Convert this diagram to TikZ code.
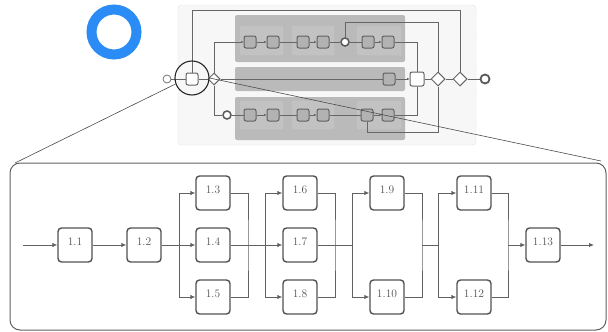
\documentclass[tikz,border=0pt]{standalone}
\usepackage{tikz}
\usetikzlibrary{positioning,calc,arrows.meta,shapes.geometric}
\definecolor{ringblue}{RGB}{43,140,245}
\tikzset{
  flow/.style    = {line width=0.9pt, draw=black!62, -{Latex[length=5pt,width=4.5pt]}},
  pipe/.style    = {line width=0.9pt, draw=black!62},
  tbox/.style    = {draw=black!68, fill=white, line width=1.4pt, rounded corners=3.5pt,
                    minimum width=34pt, minimum height=34pt, inner sep=0pt,
                    text depth=6pt, text=black!68, font=\fontsize{11.5}{13}\selectfont},
  mwire/.style   = {line width=1pt, draw=black!60},
  mflow/.style   = {mwire, -{Latex[length=2.5pt,width=2.5pt]}},
  mtask/.style   = {draw=black!62, fill=black!30, line width=1pt, rounded corners=2pt,
                    minimum size=12pt, inner sep=0pt},
  wtask/.style   = {mtask, fill=white},
  gw/.style      = {diamond, draw=black!60, fill=white, line width=1pt,
                    minimum size=14pt, inner sep=0pt},
  evt/.style     = {circle, draw=black!55, fill=white, line width=0.8pt,
                    minimum size=8pt, inner sep=0pt},
  tevt/.style    = {evt, line width=1.8pt, draw=black!65},
  lane/.style    = {fill=black!27, rounded corners=2pt},
  sublane/.style = {fill=black!24, draw=black!16, densely dotted, rounded corners=1.5pt},
}

\begin{document}
\begin{tikzpicture}[x=1pt,y=-1pt]
  \useasboundingbox (0,0) rectangle (608,332);
  % ring mark
  \node[circle, draw=ringblue, line width=10pt, minimum size=45pt, inner sep=0pt]
    (ring) at (114,32) {};

  % overview: frame and lanes
  \draw[fill=black!3, draw=black!28, densely dotted, rounded corners=3pt]
    (178,5) rectangle (476,145);
  \fill[lane] (235,15) rectangle (405,62);
  \fill[lane] (235,67) rectangle (405,91);
  \fill[lane] (235,97) rectangle (405,140);
  \foreach \xa/\xb in {240/283, 292/334, 357/401} {
    \draw[sublane] (\xa,26) rectangle (\xb,55);
    \draw[sublane] (\xa,101) rectangle (\xb,129);
  }

  % overview: main line
  \node[evt] (st) at (167,79) {};
  \node[wtask] (t0) at (192,79) {};
  \node[gw, minimum size=12pt] (gs) at (214,79) {};
  \node[mtask] (l2) at (389,79) {};
  \node[wtask, minimum size=14pt] (tj) at (417,79) {};
  \node[gw] (g1) at (438,79) {};
  \node[gw] (g2) at (460,79) {};
  \node[tevt, minimum size=9pt] (en) at (485,79) {};
  \coordinate (topy) at (0,10);
  \coordinate (loopt) at (0,22);
  \coordinate (loopb) at (0,132);

  % overview: upper lane
  \node[mtask] (a1) at (250,42) {};
  \node[mtask] (a2) at (273,42) {};
  \node[mtask] (b1) at (303,42) {};
  \node[mtask] (b2) at (323,42) {};
  \node[tevt, line width=1.5pt] (e1) at (345,42) {};
  \node[mtask] (c1) at (368,42) {};
  \node[mtask] (c2) at (388,42) {};

  % overview: lower lane
  \node[tevt, line width=1.5pt] (e3) at (227,115) {};
  \node[mtask] (d1) at (250,115) {};
  \node[mtask] (d2) at (273,115) {};
  \node[mtask] (f1) at (303,115) {};
  \node[mtask] (f2) at (323,115) {};
  \node[mtask] (h1) at (367,115) {};
  \node[mtask] (h2) at (388,115) {};

  \draw[mwire] (st) -- (t0);
  \draw[mwire] (t0) -- (gs);
  \draw[mwire] (gs) -- (l2);
  \draw[mflow] (l2) -- (tj);
  \draw[mwire] (tj) -- (g1);
  \draw[mwire] (g1) -- (g2);
  \draw[mwire] (g2) -- (en);
  \draw[mwire] (t0.north) -- (t0 |- topy) -- (g2 |- topy) -- (g2.north);
  \draw[mflow] (gs.north) |- (a1);
  \draw[mflow] (a1) -- (a2);
  \draw[mwire] (a2) -- (b1);
  \draw[mflow] (b1) -- (b2);
  \draw[mwire] (b2) -- (e1);
  \draw[mwire] (e1) -- (c1);
  \draw[mflow] (c1) -- (c2);
  \draw[mwire] (c2) -| (tj.north);
  \draw[mwire] (e1.north) -- (e1 |- loopt) -| (g1.north);
  \draw[mwire] (gs.south) |- (e3);
  \draw[mwire] (e3) -- (d1);
  \draw[mflow] (d1) -- (d2);
  \draw[mwire] (d2) -- (f1);
  \draw[mflow] (f1) -- (f2);
  \draw[mwire] (f2) -- (h1);
  \draw[mflow] (h1) -- (h2);
  \draw[mwire] (h2) -| (tj.south);
  \draw[mwire] (h1.south) -- (h1 |- loopb) -| (g1.south);

  % lens and zoom lines
  \node[circle, draw=black!85, line width=1.1pt, minimum size=34pt, inner sep=0pt]
    (lens) at (192,78) {};
  \coordinate (zl) at (15,163);
  \coordinate (zr) at (601,161);
  \draw[line width=0.6pt, draw=black!70] (lens.200) -- (zl);
  \draw[line width=0.6pt, draw=black!70] (lens.east) -- (zr);

  % detail panel
  \draw[draw=black!62, line width=1pt, fill=white, rounded corners=10pt]
    (10,163) rectangle (606,330);
  \node[tbox] (n11)  at (75,245)  {1.1};
  \node[tbox] (n12)  at (144,245) {1.2};
  \node[tbox] (n13)  at (213,193) {1.3};
  \node[tbox] (n14)  at (213,245) {1.4};
  \node[tbox] (n15)  at (213,297) {1.5};
  \node[tbox] (n16)  at (300,193) {1.6};
  \node[tbox] (n17)  at (300,245) {1.7};
  \node[tbox] (n18)  at (300,297) {1.8};
  \node[tbox] (n19)  at (387,193) {1.9};
  \node[tbox] (n110) at (387,297) {1.10};
  \node[tbox] (n111) at (474,193) {1.11};
  \node[tbox] (n112) at (474,297) {1.12};
  \node[tbox] (n113) at (543,245) {1.13};
  \coordinate (in)  at (23,245);
  \coordinate (out) at (594,245);
  \coordinate (s1) at (179,245);
  \coordinate (j1) at (248,245);
  \coordinate (s2) at (265,245);
  \coordinate (j2) at (335,245);
  \coordinate (s3) at (352,245);
  \coordinate (j3) at (422,245);
  \coordinate (s4) at (438,245);
  \coordinate (j4) at (508,245);

  \draw[flow] (in) -- (n11);
  \draw[flow] (n11) -- (n12);
  \draw[flow] (n12) -- (n14);
  \draw[flow] (s1) |- (n13);
  \draw[flow] (s1) |- (n15);
  \draw[pipe] (n13) -| (j1) |- (n15);
  \draw[flow] (n14) -- (n17);
  \draw[flow] (s2) |- (n16);
  \draw[flow] (s2) |- (n18);
  \draw[pipe] (n16) -| (j2) |- (n18);
  \draw[pipe] (n17) -- (s3);
  \draw[flow] (s3) |- (n19);
  \draw[flow] (s3) |- (n110);
  \draw[pipe] (n19) -| (j3) |- (n110);
  \draw[pipe] (j3) -- (s4);
  \draw[flow] (s4) |- (n111);
  \draw[flow] (s4) |- (n112);
  \draw[pipe] (n111) -| (j4) |- (n112);
  \draw[flow] (j4) -- (n113);
  \draw[flow] (n113) -- (out);
\end{tikzpicture}
\end{document}
